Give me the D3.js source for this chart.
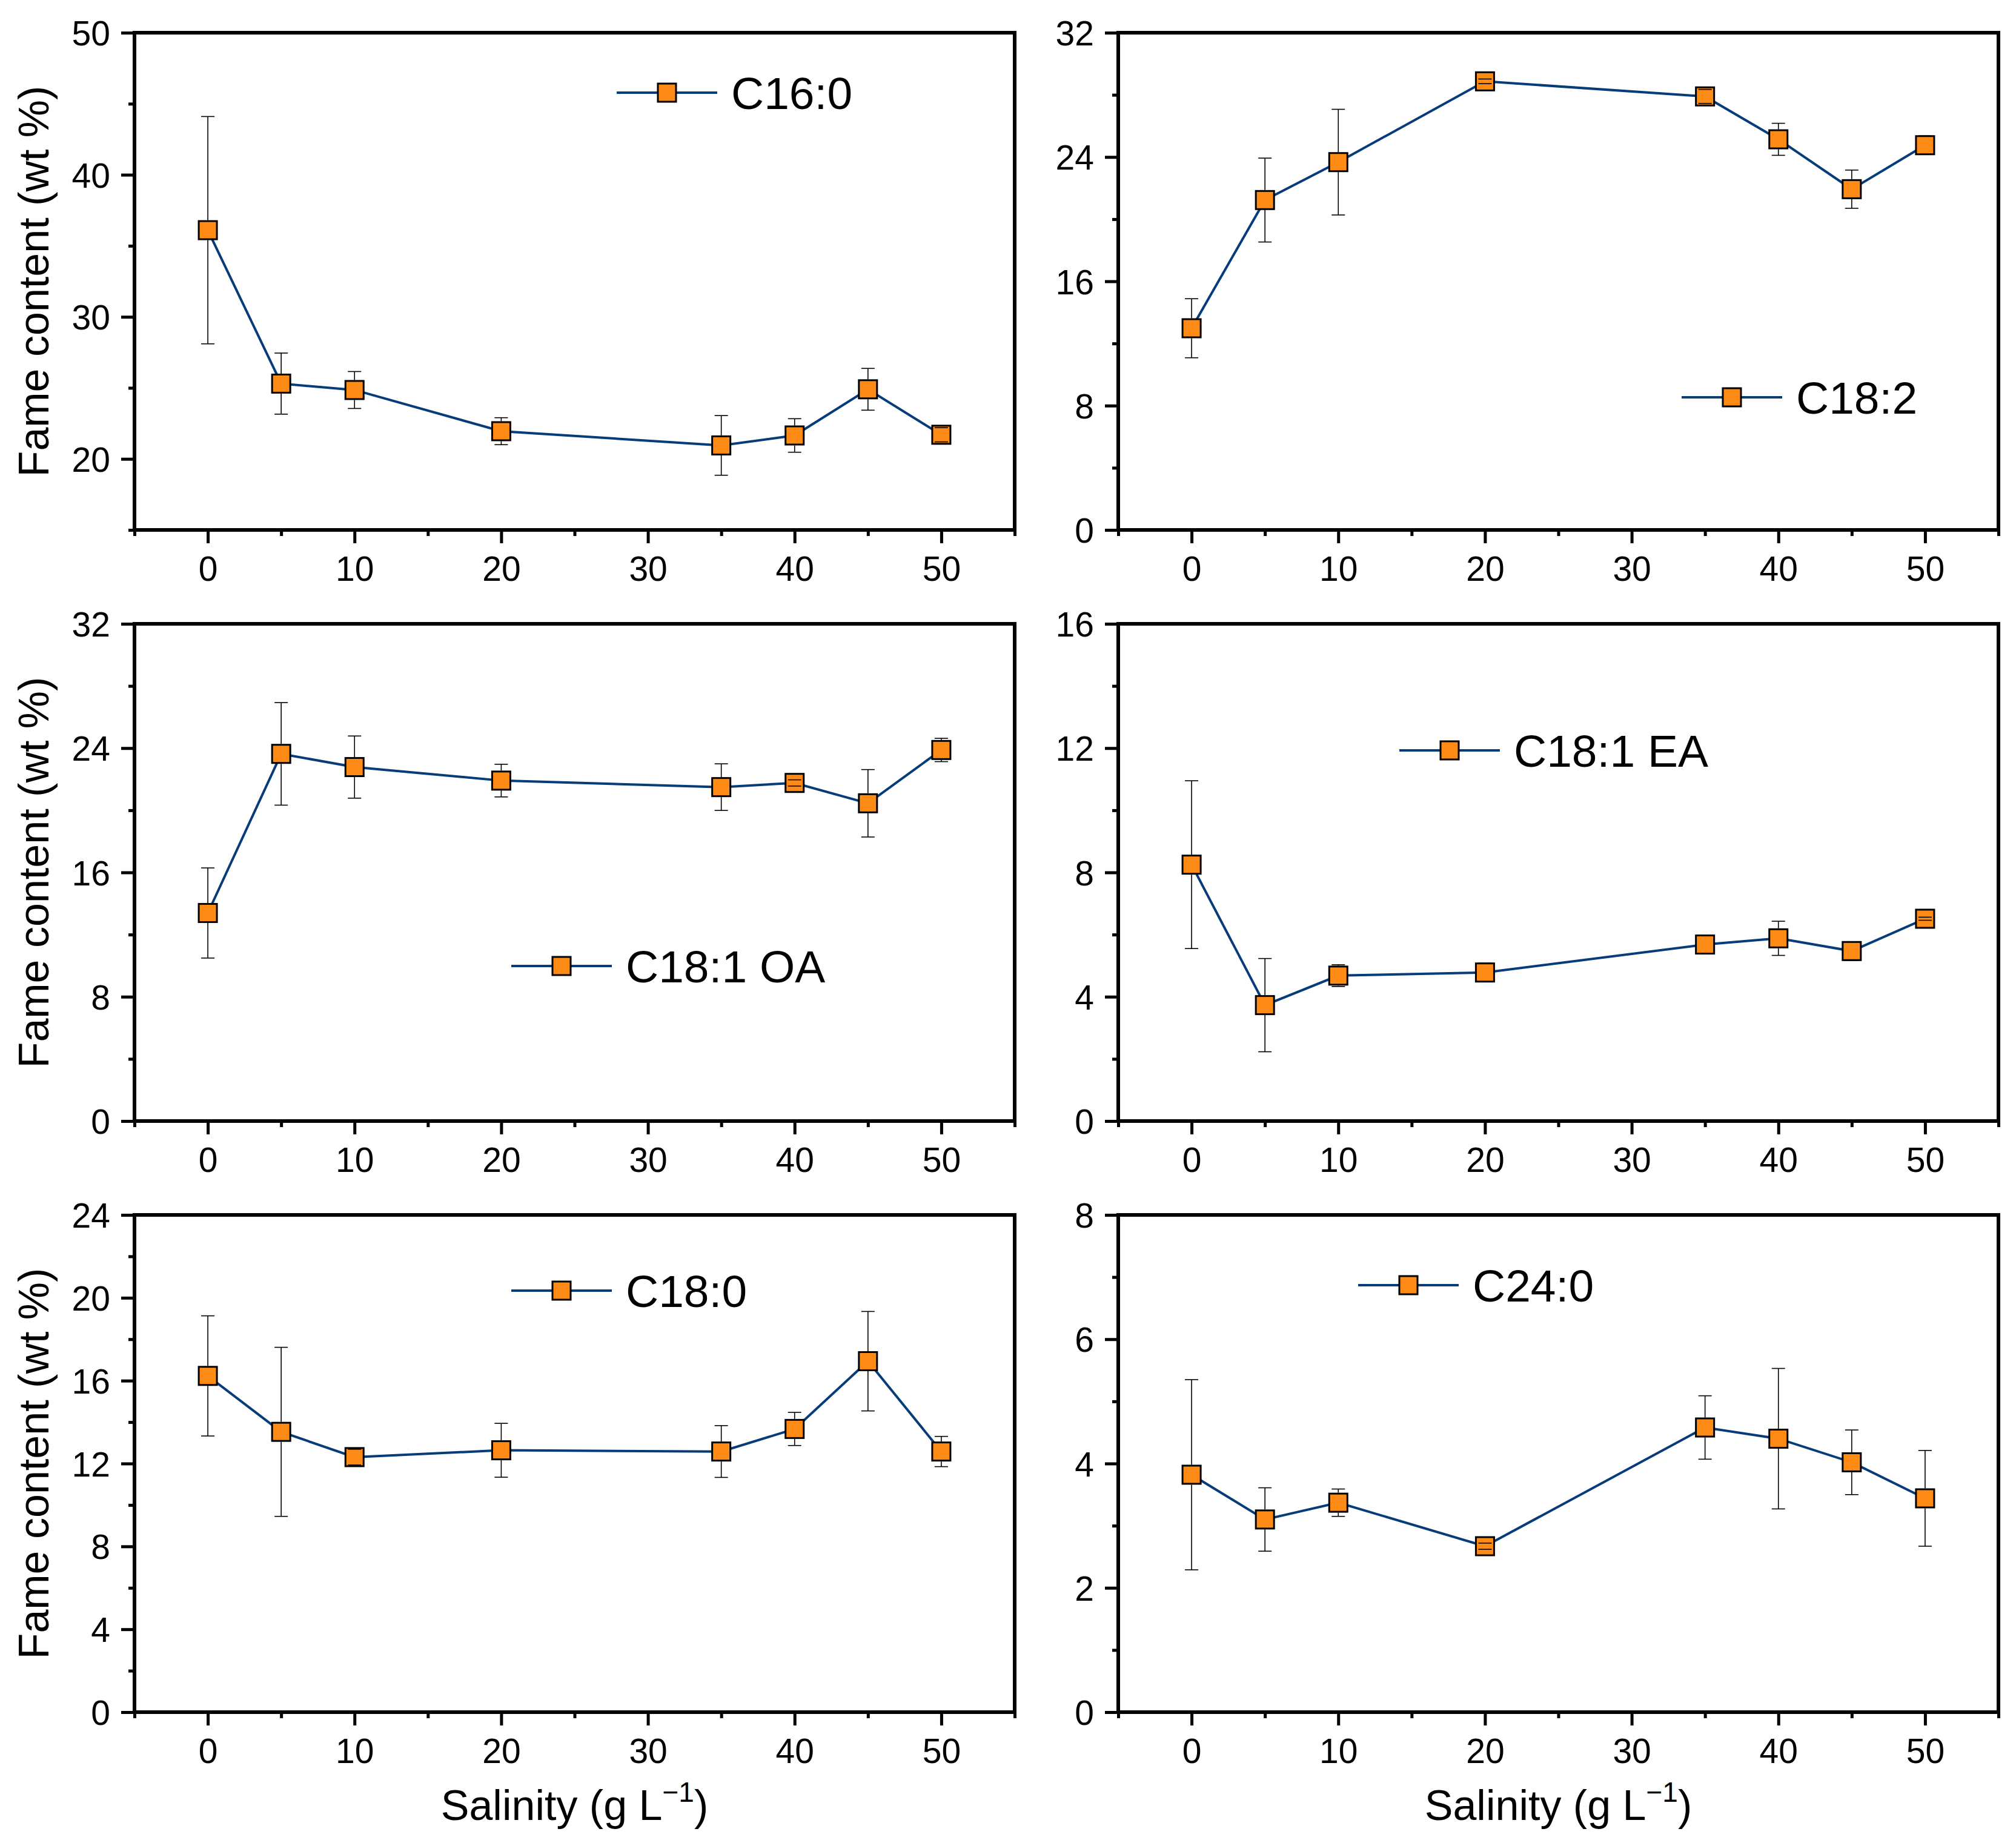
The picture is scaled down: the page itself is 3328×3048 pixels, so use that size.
<!DOCTYPE html>
<html>
<head>
<meta charset="utf-8">
<script src="https://cdn.jsdelivr.net/npm/d3@7"></script>
<style>
  body { margin: 0; background: #fff; }
  svg text { font-family: "Liberation Sans", Arial, sans-serif; fill: #000; }
</style>
</head>
<body>
<div id="chart"></div>
<script>
// salinity levels (g L-1)
const salinity = [0, 5, 10, 20, 35, 40, 45, 50];
const xTicks = [0, 10, 20, 30, 40, 50];

// FAME content (wt %) and standard deviations
const c160 = [36.1, 25.3, 24.85, 21.95, 20.95, 21.65, 24.9, 21.7];
const c160Err = [8.0, 2.15, 1.3, 0.95, 2.1, 1.18, 1.47, 0.5];
const c182 = [12.98, 21.23, 23.67, 28.87, 27.9, 25.14, 21.93, 24.76];
const c182Err = [1.9, 2.7, 3.4, 0.15, 0.45, 1.03, 1.23, 0.6];
const c181oa = [13.39, 23.63, 22.78, 21.91, 21.49, 21.76, 20.45, 23.88];
const c181oaErr = [2.9, 3.3, 2.0, 1.05, 1.5, 0.2, 2.17, 0.75];
const c181ea = [8.25, 3.73, 4.68, 4.78, 5.68, 5.88, 5.47, 6.51];
const c181eaErr = [2.7, 1.5, 0.35, 0.3, 0.28, 0.55, 0.3, 0.05];
const c180 = [16.23, 13.53, 12.31, 12.64, 12.58, 13.67, 16.94, 12.58];
const c180Err = [2.9, 4.08, 0.38, 1.3, 1.25, 0.8, 2.4, 0.73];
const c240 = [3.82, 3.1, 3.37, 2.67, 4.58, 4.4, 4.02, 3.44];
const c240Err = [1.53, 0.51, 0.22, 0.05, 0.51, 1.13, 0.52, 0.77];

// y axis ranges and labelled ticks per panel
const c160Ticks = [20, 30, 40, 50];
const c182Ticks = [0, 8, 16, 24, 32];
const c181oaTicks = [0, 8, 16, 24, 32];
const c181eaTicks = [0, 4, 8, 12, 16];
const c180Ticks = [0, 4, 8, 12, 16, 20, 24];
const c240Ticks = [0, 2, 4, 6, 8];

const panels = [
  {name: "C16:0", values: c160, errors: c160Err, ticks: c160Ticks, lo: 15},
  {name: "C18:2", values: c182, errors: c182Err, ticks: c182Ticks, lo: 0},
  {name: "C18:1 OA", values: c181oa, errors: c181oaErr, ticks: c181oaTicks, lo: 0},
  {name: "C18:1 EA", values: c181ea, errors: c181eaErr, ticks: c181eaTicks, lo: 0},
  {name: "C18:0", values: c180, errors: c180Err, ticks: c180Ticks, lo: 0},
  {name: "C24:0", values: c240, errors: c240Err, ticks: c240Ticks, lo: 0}
];

// layout (pixels)
const W = 3328, H = 3048;
const lefts = [222, 1846], tops = [54, 1030, 2006];
const pw = 1453, ph = 821;
const legendPos = [[796, 99], [930, 602], [622, 565], [464, 209], [622, 125], [396, 116]];

const lineColor = "#073c7a";
const markerFill = "#ff8b17";
const tickFont = 57, titleFont = 70, legendFont = 75;
const ms = 30; // marker size

const svg = d3.select("#chart").append("svg")
  .attr("width", W)
  .attr("height", H);

panels.forEach(function(p, i) {
  const col = i % 2, row = Math.floor(i / 2);
  const g = svg.append("g")
    .attr("transform", "translate(" + lefts[col] + "," + tops[row] + ")");

  const x = d3.scaleLinear().domain([-5, 55]).range([0, pw]);
  const step = p.ticks[1] - p.ticks[0];
  const y = d3.scaleLinear().domain([p.lo, p.ticks[p.ticks.length - 1]]).range([ph, 0]);

  const xMinor = d3.range(-5, 56, 10);
  const yMinor = d3.range(p.lo === 0 ? step / 2 : p.lo, y.domain()[1], step);

  // minor ticks
  g.append("g").attr("transform", "translate(0," + ph + ")")
    .call(d3.axisBottom(x).tickValues(xMinor).tickSize(10).tickFormat(""));
  g.append("g")
    .call(d3.axisLeft(y).tickValues(yMinor).tickSize(10).tickFormat(""));

  // major ticks
  g.append("g").attr("class", "xaxis").attr("transform", "translate(0," + ph + ")")
    .call(d3.axisBottom(x).tickValues(xTicks).tickSize(22).tickPadding(22));
  g.append("g").attr("class", "yaxis")
    .call(d3.axisLeft(y).tickValues(p.ticks).tickSize(22).tickPadding(18));

  g.selectAll(".domain").remove();
  g.selectAll(".tick line").attr("stroke", "#000").attr("stroke-width", 5);
  g.selectAll(".tick text").attr("font-size", tickFont)
    .style("font-family", '"Liberation Sans", Arial, sans-serif');
  g.selectAll(".yaxis .tick text").attr("dy", "0.36em");

  // frame
  g.append("rect")
    .attr("width", pw).attr("height", ph)
    .attr("fill", "none").attr("stroke", "#000").attr("stroke-width", 6);

  // data
  const pts = salinity.map(function(s, k) {
    return {x: s, v: p.values[k], e: p.errors[k]};
  });

  const line = d3.line().x(d => x(d.x)).y(d => y(d.v));
  g.append("path").datum(pts)
    .attr("d", line)
    .attr("fill", "none")
    .attr("stroke", lineColor)
    .attr("stroke-width", 4);

  g.selectAll(".marker").data(pts).enter().append("rect")
    .attr("class", "marker")
    .attr("x", d => x(d.x) - ms / 2)
    .attr("y", d => y(d.v) - ms / 2)
    .attr("width", ms).attr("height", ms)
    .attr("fill", markerFill)
    .attr("stroke", "#000").attr("stroke-width", 3);

  // error bars: stems run from marker edge to caps
  const half = ms / 2 + 1.5;
  const eb = g.append("g").attr("stroke", "#000").attr("stroke-width", 1.6);
  pts.forEach(function(d) {
    const cx = x(d.x), cy = y(d.v);
    const yt = y(d.v + d.e), yb = y(d.v - d.e);
    if (cy - yt > half) {
      eb.append("line").attr("x1", cx).attr("x2", cx).attr("y1", yt).attr("y2", cy - half);
    }
    if (yb - cy > half) {
      eb.append("line").attr("x1", cx).attr("x2", cx).attr("y1", cy + half).attr("y2", yb);
    }
    [yt, yb].forEach(function(yy) {
      eb.append("line").attr("x1", cx - 11).attr("x2", cx + 11).attr("y1", yy).attr("y2", yy);
    });
  });

  // legend
  const lx = legendPos[i][0], ly = legendPos[i][1];
  const lg = g.append("g").attr("transform", "translate(" + lx + "," + ly + ")");
  lg.append("line").attr("x1", 0).attr("x2", 166).attr("y1", 0).attr("y2", 0)
    .attr("stroke", lineColor).attr("stroke-width", 4);
  lg.append("rect").attr("x", 83 - ms / 2).attr("y", -ms / 2)
    .attr("width", ms).attr("height", ms)
    .attr("fill", markerFill).attr("stroke", "#000").attr("stroke-width", 3);
  lg.append("text").attr("x", 189).attr("y", 27)
    .attr("font-size", legendFont)
    .text(p.name);

  // axis titles
  if (col === 0) {
    g.append("text")
      .attr("transform", "translate(-142," + (ph / 2) + ") rotate(-90)")
      .attr("text-anchor", "middle")
      .attr("font-size", titleFont)
      .text("Fame content (wt %)");
  }
  if (row === 2) {
    const t = g.append("text")
      .attr("x", pw / 2).attr("y", ph + 178)
      .attr("text-anchor", "middle")
      .attr("font-size", titleFont);
    t.append("tspan").text("Salinity (g L");
    t.append("tspan").attr("dy", -30).attr("font-size", 46).text("\u22121");
    t.append("tspan").attr("dy", 30).text(")");
  }
});
</script>
</body>
</html>
